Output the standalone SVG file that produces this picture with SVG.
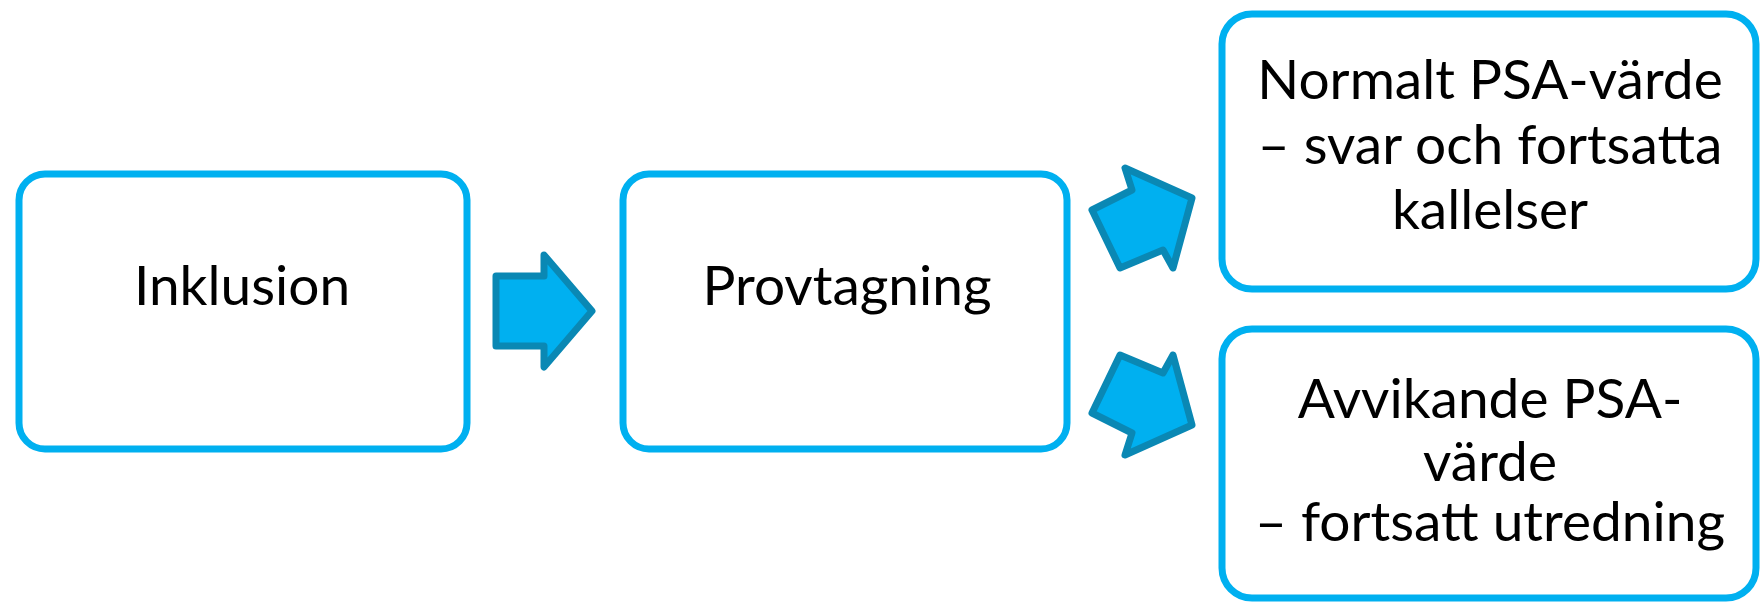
<svg xmlns="http://www.w3.org/2000/svg" width="1760" height="603" viewBox="0 0 1760 603">
<style>
.box{fill:#fff;stroke:#00B0F0;stroke-width:7}
.arr{fill:#00B0F0;stroke:#0A88B4;stroke-width:7;stroke-linejoin:round}
.t{font-family:Lato,"Open Sans",sans-serif;font-size:55px;fill:#000;text-anchor:middle}
</style>
<rect width="1760" height="603" fill="#fff"/>
<g id="connectors">
<polygon class="arr" points="496,276 544,276 544,255 592,311 544,367 544,346 496,346"/>
<polygon class="arr" points="1092,210 1132,190 1125,168 1192,198 1173,268 1163,250 1120,268"/>
<polygon class="arr" points="1092,210 1132,190 1125,168 1192,198 1173,268 1163,250 1120,268" transform="translate(0,623) scale(1,-1)"/>
</g>
<g id="inklusion">
<rect class="box" x="19" y="174" width="448" height="275" rx="26"/>
<text class="t" x="242" y="305">Inklusion</text>
</g>
<g id="provtagning">
<rect class="box" x="623" y="174" width="444" height="275" rx="26"/>
<text class="t" x="847" y="305">Provtagning</text>
</g>
<g id="normalt">
<rect class="box" x="1222" y="14" width="534" height="275" rx="30"/>
<text class="t" x="1490" y="99">Normalt PSA-värde</text>
<text class="t" x="1490" y="164">– svar och fortsatta</text>
<text class="t" x="1490" y="229">kallelser</text>
</g>
<g id="avvikande">
<rect class="box" x="1222" y="329" width="534" height="269" rx="30"/>
<text class="t" x="1490" y="418">Avvikande PSA-</text>
<text class="t" x="1490" y="481">värde</text>
<text class="t" x="1490" y="541">– fortsatt utredning</text>
</g>
</svg>
